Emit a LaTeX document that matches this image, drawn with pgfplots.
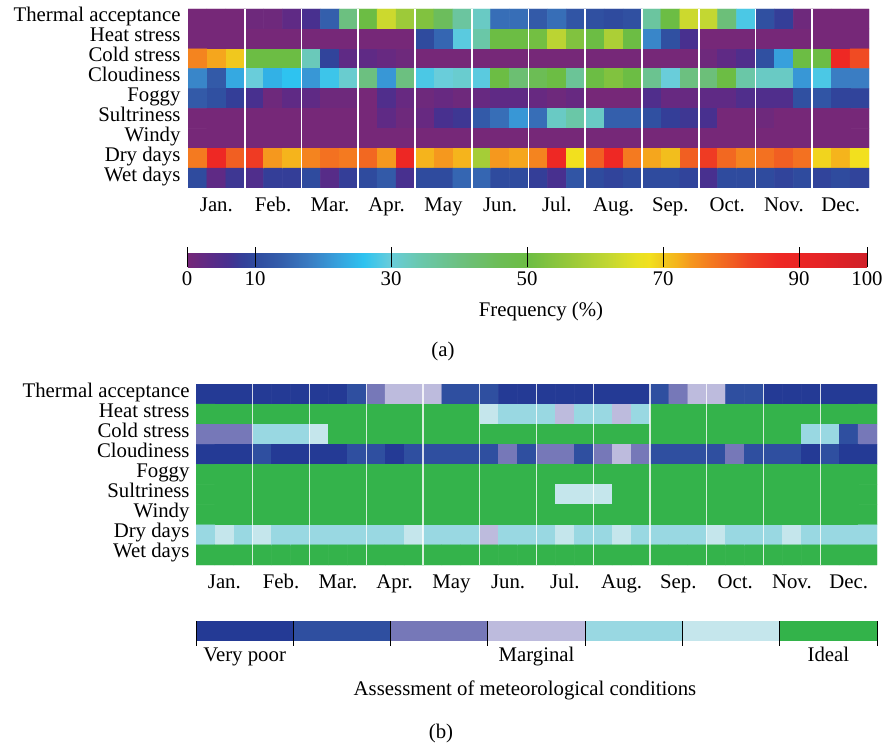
\documentclass[border=0pt]{standalone}
\usepackage{fontspec}
\setmainfont{Liberation Serif}
\usepackage{pgfplots}
\pgfplotsset{compat=1.18}
\definecolor{lvA}{RGB}{36,58,149}
\definecolor{lvB}{RGB}{47,79,160}
\definecolor{lvC}{RGB}{118,120,184}
\definecolor{lvD}{RGB}{189,187,221}
\definecolor{lvE}{RGB}{153,216,226}
\definecolor{lvF}{RGB}{197,230,236}
\definecolor{lvG}{RGB}{51,179,74}
\pgfplotsset{every axis/.append style={font=\fontsize{20.8bp}{23bp}\selectfont}}
\begin{document}
\begin{tikzpicture}[font=\fontsize{20.8bp}{23bp}\selectfont]
\useasboundingbox (0,0) rectangle (886bp,744bp);
% ---------------- (a) ----------------
\begin{axis}[
  at={(188bp,556bp)}, anchor=south west,
  scale only axis, width=681bp, height=179bp,
  xmin=-0.5, xmax=35.5, ymin=-0.5, ymax=8.5, y dir=reverse,
  axis line style={draw=none},
  xtick={1,4,...,34},
  xticklabels={Jan.,Feb.,Mar.,Apr.,May,Jun.,Jul.,Aug.,Sep.,Oct.,Nov.,Dec.},
  ytick={0,...,8},
  yticklabels={Thermal acceptance,Heat stress,Cold stress,Cloudiness,Foggy,Sultriness,Windy,Dry days,Wet days},
  yticklabel style={text height=14.5bp, text depth=4.6bp, xshift=-4bp, yshift=2bp},
  xticklabel style={text height=14.5bp, text depth=4.6bp, yshift=-5bp},
  major tick length=0pt,
  minor xtick={2.5,5.5,...,32.5}, xminorgrids, minor tick length=0pt,
  minor grid style={white, line width=1.6bp},
  axis on top,
  colormap={freq}{rgb255(0cm)=(118,40,120); rgb255(3cm)=(95,42,133); rgb255(6cm)=(72,48,143); rgb255(8cm)=(52,62,152); rgb255(10cm)=(47,75,158); rgb255(14cm)=(52,95,172); rgb255(18cm)=(58,125,195); rgb255(22cm)=(55,160,220); rgb255(26cm)=(46,195,240); rgb255(30cm)=(105,205,218); rgb255(34cm)=(106,200,175); rgb255(40cm)=(108,192,128); rgb255(46cm)=(108,189,85); rgb255(50cm)=(108,189,68); rgb255(56cm)=(150,200,58); rgb255(62cm)=(195,215,50); rgb255(66cm)=(230,225,35); rgb255(68cm)=(242,224,30); rgb255(70cm)=(240,200,30); rgb255(72cm)=(245,180,28); rgb255(74cm)=(245,152,30); rgb255(77cm)=(244,122,32); rgb255(80cm)=(241,95,34); rgb255(83cm)=(239,65,35); rgb255(87cm)=(238,40,36); rgb255(93cm)=(230,36,38); rgb255(100cm)=(208,32,40)},
  point meta min=0, point meta max=100,
  colorbar horizontal,
  colorbar style={
    at={(parent axis.south west)}, anchor=north west, xshift=-1bp, yshift=-51bp,
    scale only axis, width=680bp, height=20bp,
    xtick={0,10,30,50,70,90,100}, xticklabels={0,10,30,50,70,90,100},
    xtick pos=bottom, xticklabel pos=bottom,
    major tick length=20bp, tick align=inside,
    tick style={black, line width=1bp},
    axis line style={draw=none},
    xticklabel style={yshift=-1bp},
  },
]
\addplot[matrix plot*, mesh/cols=36, point meta=explicit] coordinates {
(0,0)[0] (1,0)[0] (2,0)[0] (3,0)[1] (4,0)[1] (5,0)[3] (6,0)[6] (7,0)[14] (8,0)[40] (9,0)[50] (10,0)[63] (11,0)[57] (12,0)[53] (13,0)[45] (14,0)[36] (15,0)[32] (16,0)[16] (17,0)[16] (18,0)[13] (19,0)[16] (20,0)[12] (21,0)[11] (22,0)[10] (23,0)[11] (24,0)[36] (25,0)[50] (26,0)[63] (27,0)[62] (28,0)[41] (29,0)[28] (30,0)[11] (31,0)[8] (32,0)[1] (33,0)[0] (34,0)[0] (35,0)[0]
(0,1)[0] (1,1)[0] (2,1)[0] (3,1)[0] (4,1)[0] (5,1)[0] (6,1)[0] (7,1)[0] (8,1)[0] (9,1)[0] (10,1)[0] (11,1)[0] (12,1)[10] (13,1)[15] (14,1)[29] (15,1)[35] (16,1)[50] (17,1)[50] (18,1)[51] (19,1)[61] (20,1)[53] (21,1)[50] (22,1)[59] (23,1)[50] (24,1)[19] (25,1)[11] (26,1)[6] (27,1)[0] (28,1)[0] (29,1)[0] (30,1)[0] (31,1)[0] (32,1)[0] (33,1)[0] (34,1)[0] (35,1)[0]
(0,2)[76] (1,2)[73] (2,2)[70] (3,2)[50] (4,2)[50] (5,2)[50] (6,2)[33] (7,2)[9] (8,2)[3] (9,2)[3] (10,2)[2] (11,2)[1] (12,2)[0] (13,2)[0] (14,2)[0] (15,2)[0] (16,2)[0] (17,2)[0] (18,2)[0] (19,2)[0] (20,2)[0] (21,2)[0] (22,2)[0] (23,2)[0] (24,2)[0] (25,2)[0] (26,2)[0] (27,2)[1] (28,2)[3] (29,2)[5] (30,2)[11] (31,2)[22] (32,2)[50] (33,2)[50] (34,2)[87] (35,2)[82]
(0,3)[19] (1,3)[13] (2,3)[23] (3,3)[30] (4,3)[24] (5,3)[26] (6,3)[21] (7,3)[27] (8,3)[31] (9,3)[40] (10,3)[21] (11,3)[40] (12,3)[28] (13,3)[30] (14,3)[31] (15,3)[29] (16,3)[50] (17,3)[42] (18,3)[46] (19,3)[50] (20,3)[37] (21,3)[50] (22,3)[53] (23,3)[50] (24,3)[38] (25,3)[30] (26,3)[40] (27,3)[41] (28,3)[50] (29,3)[35] (30,3)[32] (31,3)[32] (32,3)[21] (33,3)[28] (34,3)[18] (35,3)[18]
(0,4)[13] (1,4)[11] (2,4)[8] (3,4)[6] (4,4)[1] (5,4)[3] (6,4)[3] (7,4)[1] (8,4)[1] (9,4)[0] (10,4)[5] (11,4)[2] (12,4)[1] (13,4)[2] (14,4)[1] (15,4)[2] (16,4)[3] (17,4)[3] (18,4)[2] (19,4)[1] (20,4)[2] (21,4)[0] (22,4)[0] (23,4)[0] (24,4)[5] (25,4)[2] (26,4)[2] (27,4)[3] (28,4)[3] (29,4)[5] (30,4)[5] (31,4)[5] (32,4)[11] (33,4)[12] (34,4)[9] (35,4)[9]
(0,5)[0] (1,5)[0] (2,5)[0] (3,5)[0] (4,5)[0] (5,5)[0] (6,5)[0] (7,5)[0] (8,5)[0] (9,5)[0] (10,5)[3] (11,5)[1] (12,5)[2] (13,5)[6] (14,5)[7] (15,5)[13] (16,5)[16] (17,5)[21] (18,5)[16] (19,5)[32] (20,5)[35] (21,5)[32] (22,5)[14] (23,5)[14] (24,5)[11] (25,5)[8] (26,5)[7] (27,5)[6] (28,5)[0] (29,5)[0] (30,5)[1] (31,5)[0] (32,5)[0] (33,5)[0] (34,5)[0] (35,5)[0]
(0,6)[0] (1,6)[0] (2,6)[0] (3,6)[0] (4,6)[0] (5,6)[0] (6,6)[0] (7,6)[0] (8,6)[0] (9,6)[0] (10,6)[0] (11,6)[0] (12,6)[0] (13,6)[0] (14,6)[0] (15,6)[0] (16,6)[0] (17,6)[0] (18,6)[0] (19,6)[0] (20,6)[0] (21,6)[0] (22,6)[0] (23,6)[0] (24,6)[0] (25,6)[0] (26,6)[0] (27,6)[0] (28,6)[0] (29,6)[0] (30,6)[0] (31,6)[0] (32,6)[0] (33,6)[0] (34,6)[0] (35,6)[0]
(0,7)[77] (1,7)[87] (2,7)[80] (3,7)[84] (4,7)[74] (5,7)[72] (6,7)[76] (7,7)[78] (8,7)[77] (9,7)[79] (10,7)[74] (11,7)[88] (12,7)[72] (13,7)[74] (14,7)[72] (15,7)[58] (16,7)[74] (17,7)[73] (18,7)[76] (19,7)[87] (20,7)[68] (21,7)[80] (22,7)[87] (23,7)[77] (24,7)[73] (25,7)[71] (26,7)[80] (27,7)[84] (28,7)[79] (29,7)[76] (30,7)[78] (31,7)[80] (32,7)[78] (33,7)[69] (34,7)[72] (35,7)[68]
(0,8)[10] (1,8)[3] (2,8)[7] (3,8)[5] (4,8)[8] (5,8)[8] (6,8)[10] (7,8)[4] (8,8)[8] (9,8)[10] (10,8)[13] (11,8)[6] (12,8)[10] (13,8)[10] (14,8)[15] (15,8)[15] (16,8)[10] (17,8)[10] (18,8)[8] (19,8)[6] (20,8)[12] (21,8)[10] (22,8)[9] (23,8)[10] (24,8)[10] (25,8)[10] (26,8)[9] (27,8)[6] (28,8)[10] (29,8)[10] (30,8)[10] (31,8)[9] (32,8)[10] (33,8)[9] (34,8)[10] (35,8)[9]
};
\end{axis}
\node at (541bp,432bp) {Frequency (\%)};
\node at (443bp,392bp) {(a)};
% ---------------- (b) ----------------
\begin{axis}[
  at={(196bp,179bp)}, anchor=south west,
  scale only axis, width=681bp, height=181bp,
  xmin=-0.5, xmax=35.5, ymin=-0.5, ymax=8.5, y dir=reverse,
  axis line style={draw=none},
  xtick={1,4,...,34},
  xticklabels={Jan.,Feb.,Mar.,Apr.,May,Jun.,Jul.,Aug.,Sep.,Oct.,Nov.,Dec.},
  ytick={0,...,8},
  yticklabels={Thermal acceptance,Heat stress,Cold stress,Cloudiness,Foggy,Sultriness,Windy,Dry days,Wet days},
  yticklabel style={text height=14.5bp, text depth=4.6bp, xshift=-3bp, yshift=2bp},
  xticklabel style={text height=14.5bp, text depth=4.6bp, yshift=-5bp},
  major tick length=0pt,
  minor xtick={2.5,5.5,...,32.5}, xminorgrids, minor tick length=0pt,
  minor grid style={white, opacity=0.8, line width=1.3bp},
  axis on top,
  colormap={assess}{rgb255(0cm)=(36,58,149); rgb255(1cm)=(47,79,160); rgb255(2cm)=(118,120,184); rgb255(3cm)=(189,187,221); rgb255(4cm)=(153,216,226); rgb255(5cm)=(197,230,236); rgb255(6cm)=(51,179,74)},
  point meta min=0, point meta max=6,
]
\addplot[matrix plot*, mesh/cols=36, point meta=explicit] coordinates {
(0,0)[0] (1,0)[0] (2,0)[0] (3,0)[0] (4,0)[0] (5,0)[0] (6,0)[0] (7,0)[0] (8,0)[1] (9,0)[2] (10,0)[3] (11,0)[3] (12,0)[3] (13,0)[1] (14,0)[1] (15,0)[1] (16,0)[0] (17,0)[0] (18,0)[0] (19,0)[0] (20,0)[0] (21,0)[0] (22,0)[0] (23,0)[0] (24,0)[1] (25,0)[2] (26,0)[3] (27,0)[3] (28,0)[1] (29,0)[1] (30,0)[0] (31,0)[0] (32,0)[0] (33,0)[0] (34,0)[0] (35,0)[0]
(0,1)[6] (1,1)[6] (2,1)[6] (3,1)[6] (4,1)[6] (5,1)[6] (6,1)[6] (7,1)[6] (8,1)[6] (9,1)[6] (10,1)[6] (11,1)[6] (12,1)[6] (13,1)[6] (14,1)[6] (15,1)[5] (16,1)[4] (17,1)[4] (18,1)[4] (19,1)[3] (20,1)[4] (21,1)[4] (22,1)[3] (23,1)[4] (24,1)[6] (25,1)[6] (26,1)[6] (27,1)[6] (28,1)[6] (29,1)[6] (30,1)[6] (31,1)[6] (32,1)[6] (33,1)[6] (34,1)[6] (35,1)[6]
(0,2)[2] (1,2)[2] (2,2)[2] (3,2)[4] (4,2)[4] (5,2)[4] (6,2)[5] (7,2)[6] (8,2)[6] (9,2)[6] (10,2)[6] (11,2)[6] (12,2)[6] (13,2)[6] (14,2)[6] (15,2)[6] (16,2)[6] (17,2)[6] (18,2)[6] (19,2)[6] (20,2)[6] (21,2)[6] (22,2)[6] (23,2)[6] (24,2)[6] (25,2)[6] (26,2)[6] (27,2)[6] (28,2)[6] (29,2)[6] (30,2)[6] (31,2)[6] (32,2)[4] (33,2)[4] (34,2)[1] (35,2)[2]
(0,3)[0] (1,3)[0] (2,3)[0] (3,3)[1] (4,3)[0] (5,3)[0] (6,3)[0] (7,3)[0] (8,3)[1] (9,3)[1] (10,3)[0] (11,3)[1] (12,3)[1] (13,3)[1] (14,3)[1] (15,3)[1] (16,3)[2] (17,3)[1] (18,3)[2] (19,3)[2] (20,3)[1] (21,3)[2] (22,3)[3] (23,3)[2] (24,3)[1] (25,3)[1] (26,3)[1] (27,3)[1] (28,3)[2] (29,3)[1] (30,3)[1] (31,3)[1] (32,3)[0] (33,3)[1] (34,3)[0] (35,3)[0]
(0,4)[6] (1,4)[6] (2,4)[6] (3,4)[6] (4,4)[6] (5,4)[6] (6,4)[6] (7,4)[6] (8,4)[6] (9,4)[6] (10,4)[6] (11,4)[6] (12,4)[6] (13,4)[6] (14,4)[6] (15,4)[6] (16,4)[6] (17,4)[6] (18,4)[6] (19,4)[6] (20,4)[6] (21,4)[6] (22,4)[6] (23,4)[6] (24,4)[6] (25,4)[6] (26,4)[6] (27,4)[6] (28,4)[6] (29,4)[6] (30,4)[6] (31,4)[6] (32,4)[6] (33,4)[6] (34,4)[6] (35,4)[6]
(0,5)[6] (1,5)[6] (2,5)[6] (3,5)[6] (4,5)[6] (5,5)[6] (6,5)[6] (7,5)[6] (8,5)[6] (9,5)[6] (10,5)[6] (11,5)[6] (12,5)[6] (13,5)[6] (14,5)[6] (15,5)[6] (16,5)[6] (17,5)[6] (18,5)[6] (19,5)[5] (20,5)[5] (21,5)[5] (22,5)[6] (23,5)[6] (24,5)[6] (25,5)[6] (26,5)[6] (27,5)[6] (28,5)[6] (29,5)[6] (30,5)[6] (31,5)[6] (32,5)[6] (33,5)[6] (34,5)[6] (35,5)[6]
(0,6)[6] (1,6)[6] (2,6)[6] (3,6)[6] (4,6)[6] (5,6)[6] (6,6)[6] (7,6)[6] (8,6)[6] (9,6)[6] (10,6)[6] (11,6)[6] (12,6)[6] (13,6)[6] (14,6)[6] (15,6)[6] (16,6)[6] (17,6)[6] (18,6)[6] (19,6)[6] (20,6)[6] (21,6)[6] (22,6)[6] (23,6)[6] (24,6)[6] (25,6)[6] (26,6)[6] (27,6)[6] (28,6)[6] (29,6)[6] (30,6)[6] (31,6)[6] (32,6)[6] (33,6)[6] (34,6)[6] (35,6)[6]
(0,7)[4] (1,7)[5] (2,7)[4] (3,7)[5] (4,7)[4] (5,7)[4] (6,7)[4] (7,7)[4] (8,7)[4] (9,7)[4] (10,7)[4] (11,7)[5] (12,7)[4] (13,7)[4] (14,7)[4] (15,7)[3] (16,7)[4] (17,7)[4] (18,7)[4] (19,7)[5] (20,7)[4] (21,7)[4] (22,7)[5] (23,7)[4] (24,7)[4] (25,7)[4] (26,7)[4] (27,7)[5] (28,7)[4] (29,7)[4] (30,7)[4] (31,7)[5] (32,7)[4] (33,7)[4] (34,7)[4] (35,7)[4]
(0,8)[6] (1,8)[6] (2,8)[6] (3,8)[6] (4,8)[6] (5,8)[6] (6,8)[6] (7,8)[6] (8,8)[6] (9,8)[6] (10,8)[6] (11,8)[6] (12,8)[6] (13,8)[6] (14,8)[6] (15,8)[6] (16,8)[6] (17,8)[6] (18,8)[6] (19,8)[6] (20,8)[6] (21,8)[6] (22,8)[6] (23,8)[6] (24,8)[6] (25,8)[6] (26,8)[6] (27,8)[6] (28,8)[6] (29,8)[6] (30,8)[6] (31,8)[6] (32,8)[6] (33,8)[6] (34,8)[6] (35,8)[6]
};
\end{axis}
% legend bar (b)
\begin{axis}[
  at={(196bp,103bp)}, anchor=south west,
  scale only axis, width=681bp, height=20bp,
  xmin=0, xmax=7, ymin=0, ymax=1,
  axis line style={draw=none},
  ytick=\empty,
  xtick={0.5,3.5,6.5}, xticklabels={Very poor,Marginal,Ideal},
  xtick pos=bottom,
  major tick length=0pt,
  minor xtick={0,...,7}, minor tick length=5bp, tick align=outside,
  minor tick style={black, line width=0.9bp},
  xminorgrids, minor grid style={black, line width=0.9bp},
  axis on top,
  xticklabel style={text height=14.5bp, text depth=4.6bp, yshift=-2bp},
]
\addplot[fill=lvA, draw=none] coordinates {(0,0) (1,0) (1,1) (0,1)} --cycle;
\addplot[fill=lvB, draw=none] coordinates {(1,0) (2,0) (2,1) (1,1)} --cycle;
\addplot[fill=lvC, draw=none] coordinates {(2,0) (3,0) (3,1) (2,1)} --cycle;
\addplot[fill=lvD, draw=none] coordinates {(3,0) (4,0) (4,1) (3,1)} --cycle;
\addplot[fill=lvE, draw=none] coordinates {(4,0) (5,0) (5,1) (4,1)} --cycle;
\addplot[fill=lvF, draw=none] coordinates {(5,0) (6,0) (6,1) (5,1)} --cycle;
\addplot[fill=lvG, draw=none] coordinates {(6,0) (7,0) (7,1) (6,1)} --cycle;
\end{axis}
\node at (525bp,54bp) {Assessment of meteorological conditions};
\node at (441bp,11bp) {(b)};
\end{tikzpicture}
\end{document}
